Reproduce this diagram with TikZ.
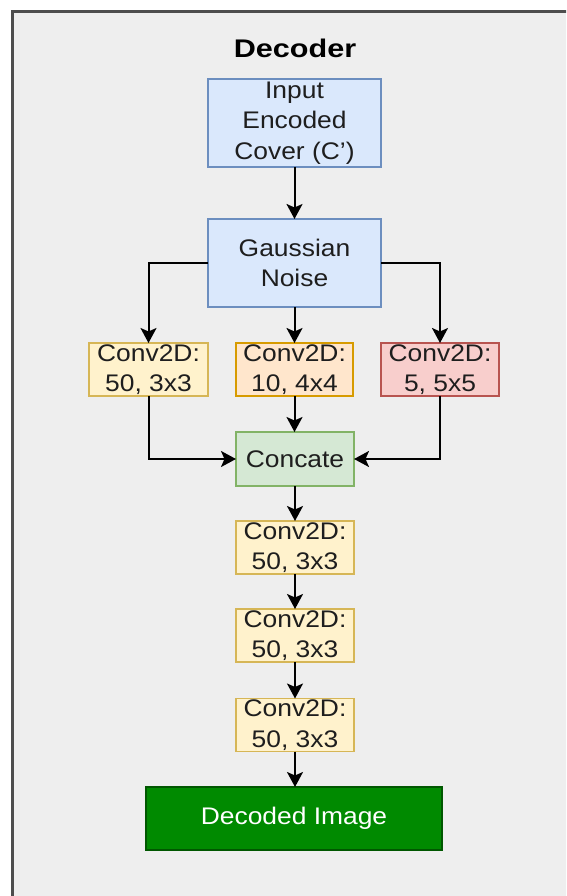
\documentclass[tikz,border=0pt]{standalone}
\usepackage{fontspec}
\setmainfont{Liberation Sans}[FakeStretch=1.1]
\newfontfamily\titlefont{Liberation Sans}[FakeStretch=1.2]
\usetikzlibrary{arrows.meta}

\definecolor{panelfill}{HTML}{EEEEEE}
\definecolor{panelline}{HTML}{4D4D4D}
\definecolor{bluefill}{HTML}{DAE8FC}
\definecolor{blueline}{HTML}{6C8EBF}
\definecolor{yelfill}{HTML}{FFF2CC}
\definecolor{yelline}{HTML}{D6B656}
\definecolor{orafill}{HTML}{FFE6CC}
\definecolor{oraline}{HTML}{D79B00}
\definecolor{redfill}{HTML}{F8CECC}
\definecolor{redline}{HTML}{B85450}
\definecolor{grnfill}{HTML}{D5E8D4}
\definecolor{grnline}{HTML}{82B366}
\definecolor{darkgrn}{HTML}{008A00}
\definecolor{darkgrnline}{HTML}{005700}
\definecolor{txt}{HTML}{1E1E1E}

\tikzset{
  box/.style={draw, rectangle, line width=1.3pt, inner sep=0pt, outer sep=0pt,
    align=center, text=txt, font=\fontsize{24}{30.5}\selectfont},
  bluebox/.style={box, fill=bluefill, draw=blueline, minimum width=173pt, minimum height=88pt},
  convbox/.style={box, minimum width=118pt, minimum height=53pt},
  yelbox/.style={convbox, fill=yelfill, draw=yelline},
  orabox/.style={convbox, fill=orafill, draw=oraline},
  redbox/.style={convbox, fill=redfill, draw=redline},
  grnbox/.style={convbox, fill=grnfill, draw=grnline, minimum height=54pt},
  outbox/.style={box, fill=darkgrn, draw=darkgrnline, text=white,
    minimum width=296pt, minimum height=63pt},
  arr/.style={draw=black, line width=2pt, -{Stealth[length=15pt, width=16pt, inset=3.5pt]}},
}

\begin{document}
\begin{tikzpicture}[x=1pt, y=-1pt]
  \useasboundingbox (0,0) rectangle (566,896);
  % panel that runs past the right and bottom edges
  \begin{scope}
    \clip (0,0) rectangle (566,896);
    \draw[fill=panelfill, draw=panelline, line width=2.2pt] (12.5,11.5) rectangle (600,930);
  \end{scope}

  \node[font=\titlefont\bfseries\fontsize{25.5}{30}\selectfont, text=black] (title) at (295,48) {Decoder};

  \node[bluebox] (inp) at (294.5,123) {Input\\Encoded\\Cover (C\char39)};
  \node[bluebox] (noise) at (294.5,263) {Gaussian\\Noise};

  \node[yelbox, minimum width=119pt] (c1) at (148.5,369.5) {Conv2D:\\50, 3x3};
  \node[orabox, minimum width=117pt] (c2) at (294.5,369.5) {Conv2D:\\10, 4x4};
  \node[redbox] (c3) at (440,369.5) {Conv2D:\\5, 5x5};

  \node[grnbox] (cat) at (295,459) {Concate};

  \node[yelbox] (d1) at (295,547.5) {Conv2D:\\50, 3x3};
  \node[yelbox] (d2) at (295,635.5) {Conv2D:\\50, 3x3};
  \node[yelbox] (d3) at (295,725) {Conv2D:\\50, 3x3};

  \node[outbox] (out) at (294,818.5) {Decoded Image};

  \draw[arr] (inp.south) -- (noise.north);
  \draw[arr] (noise.west) -| (c1.north);
  \draw[arr] (noise.south) -- (noise.south |- c2.north);
  \draw[arr] (noise.east) -| (c3.north);
  \draw[arr] (c1.south) |- (cat.west);
  \draw[arr] (c2.south) -- (c2.south |- cat.north);
  \draw[arr] (c3.south) |- (cat.east);
  \draw[arr] (cat.south) -- (d1.north);
  \draw[arr] (d1.south) -- (d2.north);
  \draw[arr] (d2.south) -- (d3.north);
  \draw[arr] (d3.south) -- (d3.south |- out.north);
\end{tikzpicture}
\end{document}
